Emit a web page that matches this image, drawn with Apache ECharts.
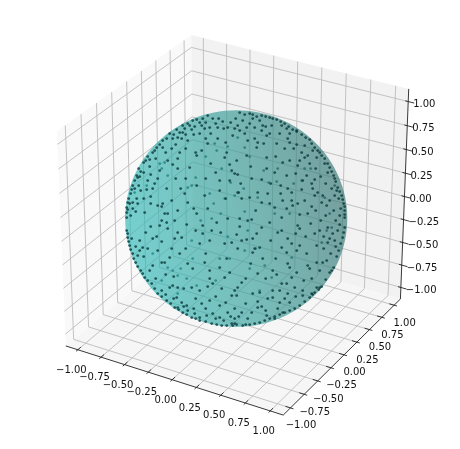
<!DOCTYPE html>
<html>
<head>
<meta charset="utf-8">
<script src="https://cdn.jsdelivr.net/npm/echarts@6/dist/echarts.min.js"></script>
<style>
html, body { margin: 0; padding: 0; background: #fff; }
#chart { width: 460px; height: 449px; }
</style>
</head>
<body>
<div id="chart"></div>
<script>
var tickValues = [-1, -0.75, -0.5, -0.25, 0, 0.25, 0.5, 0.75, 1];
var tickLabels = ['\u22121.00', '\u22120.75', '\u22120.50', '\u22120.25', '0.00', '0.25', '0.50', '0.75', '1.00'];

// dots, view plane units (sphere centre = 0,0, radius about 110)
var frontDots = [
  [-28,103],[-33,100],[-39,99],[-43,98],[-48,95],[-53,93],[-59,89],[-66,85],[-73,78],[-79,71],[-83,66],[-88,62],[-92,56],[-97,50],[-99,43],[-103,33],[-105,25],[-108,16],[-109,6],[-109,1],
  [-23,100],[-17,100],[-13,97],[-8,91],[-18,91],[-26,91],[-31,90],[-34,93],[-41,92],[-44,89],[-36,85],[-25,85],[-53,86],[-58,81],[-54,80],[-48,78],[-63,80],[-73,71],[-64,70],[-56,66],[-58,60],[-63,54],[-58,50],[-46,51],[-40,66],[-34,68],[-39,63],[-25,55],[-9,66],[-11,61],[-6,54],[1,58],[-4,48],[-6,38],[3,26],[-16,38],[-39,33],[-31,23],[-16,28],[-51,25],[-48,16],[-42,10],[-39,5],[-69,30],[-64,18],[-73,15],[-78,13],[-74,12],[-91,6],[-71,5],[-68,5],[-81,35],[-83,30],[-89,29],[-85,44],[-78,40],[-98,41],[-96,42],[-101,30],[-95,28],[-103,16],[-98,15],[-106,15],[-108,9],[-100,7],[-8,0],[4,0],[-18,80],[-10,76],[-3,83],[2,93],
  [-30,96],[-36,96],[-46,93],[-51,90],[-56,86],[-62,84],[-69,80],[-76,74],[-81,68],[-86,59],[-90,58],[-95,47],[-101,38],[-104,29],[-107,20],[-109,11],[-105,3],[-103,10],[-99,20],[-97,33],[-92,46],[-86,52],[-80,60],[-70,66],[-60,74],[-50,84],[-42,84],[-30,80],[-20,95],[-12,90],[-5,96],[-28,75],[-50,70],[-68,58],[-76,48],[-88,38],[-92,20],[-85,15],[-60,40],[-50,40],[-30,40],[-20,46],[-10,20],[-28,10],[-58,8],[-85,22],[-55,30],
  [4,106],[14,105],[17,104],[26,103],[34,101],[41,99],[49,95],[57,89],[66,84],[74,79],[79,71],[84,66],[89,60],[94,51],[98,43],[102,31],[106,23],[108,15],[109,8],[109,1],
  [7,98],[11,91],[17,100],[19,91],[24,98],[27,93],[34,85],[26,88],[9,85],[-1,90],[19,80],[22,76],[21,71],[31,83],[41,75],[46,93],[51,90],[54,85],[61,88],[54,76],[61,74],[69,73],[77,68],[81,61],[72,63],[69,61],[64,58],[62,53],[49,70],[54,58],[47,56],[31,61],[11,63],[31,50],[39,46],[51,43],[71,43],[79,39],[89,55],[92,46],[99,40],[76,35],[67,38],[77,30],[82,26],[87,23],[52,30],[56,26],[66,29],[101,28],[99,23],[94,18],[91,13],[86,16],[79,23],[69,18],[62,15],[56,18],[47,18],[32,25],[22,26],[14,21],[2,26],[6,20],[26,16],[34,15],[39,11],[57,13],[72,5],[64,4],[51,10],[46,1],[16,40],[26,39],[-1,45],[2,44],
  [0,100],[9,104],[21,102],[30,102],[37,100],[45,97],[53,92],[61,87],[70,81],[76,75],[82,68],[86,63],[92,55],[96,47],[100,37],[104,27],[107,19],[109,12],[109,4],[105,10],[103,20],[96,30],[90,35],[85,42],[80,50],[74,55],[66,66],[58,70],[52,80],[44,85],[36,93],[30,92],[14,95],[4,88],[12,78],[28,75],[40,62],[60,45],[45,33],[35,35],[15,52],[5,35],[20,8],[80,8],[98,8],[104,3],[90,3],[76,12],[45,25],
  [-109,-12],[-108,-19],[-106,-27],[-103,-35],[-100,-44],[-95,-52],[-91,-59],[-84,-65],[-78,-75],[-69,-82],[-61,-89],[-53,-94],[-44,-99],[-36,-102],[-24,-105],[-14,-107],[-3,-107],
  [-74,-2],[-69,-4],[-61,-2],[-76,-7],[-68,-10],[-58,-14],[-49,-6],[-79,-18],[-83,-20],[-74,-23],[-96,-22],[-93,-29],[-96,-32],[-98,-37],[-78,-32],[-71,-44],[-74,-44],[-66,-39],[-56,-35],[-61,-20],[-54,-19],[-33,-7],[-24,-12],[-19,-4],[-33,-15],[-36,-25],[-26,-22],[-11,-25],[-4,-24],[-48,-45],[-43,-50],[-31,-44],[-26,-52],[-16,-49],[-6,-54],[-11,-59],[-26,-60],[-23,-65],[-28,-68],[-63,-67],[-66,-69],[-74,-72],[-58,-69],[-83,-47],[-1,-72],[-4,-77],[-36,-72],[-59,-79],[-54,-84],[-58,-89],[-48,-92],[-49,-87],[-34,-85],[-26,-82],[-16,-87],[-23,-95],[-16,-99],[-29,-97],[-8,-94],[-1,-100],[-1,-105],[-36,-99],[-41,-95],[-44,-69],
  [-108,-15],[-107,-23],[-105,-31],[-102,-40],[-98,-48],[-93,-55],[-88,-62],[-81,-70],[-74,-78],[-65,-85],[-57,-91],[-49,-96],[-40,-100],[-30,-103],[-19,-106],[-9,-107],[-104,-20],[-100,-28],[-92,-38],[-86,-52],[-80,-60],[-70,-76],[-62,-80],[-52,-88],[-42,-90],[-30,-90],[-20,-100],[-12,-102],[-5,-98],[-90,-14],[-85,-8],[-64,-30],[-50,-30],[-40,-12],[-15,-14],[-62,-58],[-52,-70],[-40,-80],[-14,-70],[-9,-40],[-30,-35],[-88,-30],[-70,-56],[-20,-78],[-10,-84],
  [109,-9],[107,-19],[103,-32],[98,-49],[94,-54],[86,-68],[79,-74],[74,-79],[64,-87],[54,-92],[44,-96],[34,-100],[24,-104],[14,-106],[7,-107],[1,-106],
  [12,-2],[16,-1],[34,-4],[42,-14],[46,-12],[26,-9],[21,-15],[17,-20],[6,-22],[11,-21],[1,-16],[2,-30],[19,-30],[24,-29],[17,-34],[27,-40],[46,-29],[52,-20],[56,-25],[64,-10],[62,-7],[64,-27],[61,-32],[51,-34],[71,-35],[81,-27],[79,-15],[84,-12],[92,-9],[97,-15],[102,-12],[94,-20],[99,-22],[92,-24],[81,-44],[87,-44],[91,-42],[72,-47],[74,-50],[54,-49],[37,-52],[41,-56],[22,-55],[61,-54],[56,-59],[51,-65],[46,-65],[44,-72],[37,-72],[49,-80],[59,-69],[67,-72],[76,-75],[81,-69],[84,-69],[67,-77],[54,-84],[44,-84],[37,-79],[22,-83],[26,-88],[22,-89],[31,-97],[39,-100],[47,-94],[16,-94],[6,-94],[1,-77],[6,-64],[2,-69],[17,-75],[24,-74],[-1,-90],
  [108,-14],[105,-25],[101,-38],[96,-52],[90,-61],[83,-71],[77,-76],[69,-83],[59,-90],[49,-94],[39,-98],[29,-102],[19,-105],[10,-106],[-4,-105],[104,-6],[100,-28],[95,-35],[88,-30],[84,-52],[76,-60],[68,-62],[60,-78],[52,-75],[42,-90],[30,-92],[12,-100],[3,-98],[10,-85],[30,-60],[15,-45],[35,-22],[70,-18],[85,-2],[100,-2],[52,-45],[40,-40],[10,-60],[32,-80],[60,-15],[4,-8],[75,-5],[88,-18]
];
// the ones behind the surface, only faintly visible
var backDots = [
  [-76,55],[-71,56],[-74,50],[-68,43],[-40,41],[-48,31],[-44,33],[-21,75],[-19,68],[-26,25],[-11,20],[-1,23],[-101,26],[-89,33],
  [2,81],[9,71],[42,50],[33,36],[41,37],[69,50],[66,38],[99,33],[94,5],[54,5],[39,5],[9,7],[22,21],[89,21],
  [-68,-49],[-63,-52],[-58,-57],[-49,-60],[-43,-40],[-83,-35],[-58,-75],[-39,-67],[-16,-40],[-44,-22],[-24,0],[-74,-62],[-6,-40],
  [14,-50],[29,-47],[9,-32],[36,-59],[24,-72],[96,-9],[91,-12],[86,-24],[56,-39],
  [-8,72],[-30,62],[-14,50],[-5,36],[-22,15],[-35,-2],[-8,-18],[12,-12],[8,30],[14,62],[28,48],[58,35],[75,50],[-55,-50],[-20,-62],[20,-30],[-15,5]
];

// box half size of the 3d axes, and view
var L = 1.13;
var elev = 30 * Math.PI / 180;
var azim = -60 * Math.PI / 180;
var dist = 10;
var scaleX = 2510, scaleY = 2450;

var n = [Math.cos(elev) * Math.cos(azim), Math.cos(elev) * Math.sin(azim), Math.sin(elev)];
var u = [-n[1], n[0], 0];
var ul = Math.sqrt(u[0] * u[0] + u[1] * u[1]);
u = [u[0] / ul, u[1] / ul, 0];
var v = [n[1] * u[2] - n[2] * u[1], n[2] * u[0] - n[0] * u[2], n[0] * u[1] - n[1] * u[0]];

function project(x, y, z) {
  var p = [(x + L) / (2 * L) - 0.5, (y + L) / (2 * L) - 0.5, (z + L) / (2 * L) - 0.5];
  var w = dist - (n[0] * p[0] + n[1] * p[1] + n[2] * p[2]);
  return [
    scaleX * (u[0] * p[0] + u[1] * p[1] + u[2] * p[2]) / w,
    scaleY * (v[0] * p[0] + v[1] * p[1] + v[2] * p[2]) / w
  ];
}

// panes
var panes = [
  { fill: '#f9f9f9', pts: [[-L, -L, -L], [-L, L, -L], [-L, L, L], [-L, -L, L]] },
  { fill: '#f2f2f2', pts: [[-L, L, -L], [L, L, -L], [L, L, L], [-L, L, L]] },
  { fill: '#f6f6f6', pts: [[-L, -L, -L], [L, -L, -L], [L, L, -L], [-L, L, -L]] }
];

var gridLines = [], axisLines = [], tickMarks = [], labels = [];
tickValues.forEach(function (t, i) {
  gridLines.push([[t, -L, -L], [t, L, -L], [t, L, L]]);
  gridLines.push([[L, t, -L], [-L, t, -L], [-L, t, L]]);
  gridLines.push([[-L, -L, t], [-L, L, t], [L, L, t]]);
  tickMarks.push([[t, -L - 0.03, -L], [t, -L + 0.05, -L]]);
  tickMarks.push([[L + 0.03, t, -L], [L - 0.05, t, -L]]);
  tickMarks.push([[L + 0.06, L, t], [L - 0.03, L, t]]);
  labels.push({ pos: [t, -L, -L], text: tickLabels[i], dx: -6.5, dy: 20.5, align: 'center' });
  labels.push({ pos: [L, t, -L], text: tickLabels[i], dx: 10.5, dy: 18, align: 'center' });
  labels.push({ pos: [L, L, t], text: tickLabels[i], dx: 5, dy: 3, align: 'left' });
});
axisLines.push([[-L, -L, -L], [L, -L, -L]]);
axisLines.push([[L, -L, -L], [L, L, -L]]);
axisLines.push([[L, L, -L], [L, L, L]]);

function toCoords(api, pts) {
  return pts.map(function (p) {
    var q = project(p[0], p[1], p[2]);
    return api.coord(q);
  });
}

function lineSeries(list, color, width, z) {
  return {
    type: 'custom',
    coordinateSystem: 'cartesian2d',
    silent: true,
    z: z,
    clip: false,
    data: list.map(function (d, i) { return i; }),
    renderItem: function (params, api) {
      return {
        type: 'polyline',
        shape: { points: toCoords(api, list[params.dataIndex]) },
        style: { stroke: color, lineWidth: width, fill: null }
      };
    }
  };
}

var option = {
  animation: false,
  grid: { left: 0, right: 0, top: 0, bottom: 0 },
  xAxis: { type: 'value', min: -235.7, max: 224.3, show: false },
  yAxis: { type: 'value', min: -230.4, max: 218.6, show: false },
  series: [
    {
      type: 'custom',
      silent: true,
      z: 1,
      data: panes.map(function (d, i) { return i; }),
      renderItem: function (params, api) {
        var p = panes[params.dataIndex];
        return {
          type: 'polygon',
          shape: { points: toCoords(api, p.pts) },
          style: { fill: p.fill }
        };
      }
    },
    lineSeries(gridLines, '#bcbcbc', 0.9, 2),
    lineSeries(axisLines, '#222222', 0.9, 3),
    lineSeries(tickMarks, '#222222', 0.9, 3),
    {
      type: 'scatter',
      silent: true,
      z: 4,
      symbolSize: 2.8,
      itemStyle: { color: '#0b3c3c' },
      data: backDots
    },
    {
      // the sphere
      type: 'custom',
      silent: true,
      z: 5,
      data: [[0, 0, 1]],
      renderItem: function (params, api) {
        var c = api.coord([0, 0]);
        return {
          type: 'ellipse',
          shape: {
            cx: c[0] + 0.5,
            cy: c[1],
            rx: scaleX * 0.5 / L / dist,
            ry: scaleY * 0.5 / L / dist
          },
          style: {
            opacity: 0.65,
            fill: new echarts.graphic.LinearGradient(0, 0.62, 1, 0.38, [
              { offset: 0, color: '#2ebab8' },
              { offset: 0.5, color: '#339e99' },
              { offset: 1, color: '#337370' }
            ])
          }
        };
      }
    },
    {
      type: 'scatter',
      silent: true,
      z: 6,
      symbolSize: 2.8,
      itemStyle: { color: '#0a3a3c' },
      data: frontDots
    },
    {
      type: 'custom',
      silent: true,
      z: 7,
      data: labels.map(function (d, i) { return i; }),
      renderItem: function (params, api) {
        var l = labels[params.dataIndex];
        var c = toCoords(api, [l.pos])[0];
        return {
          type: 'text',
          x: c[0] + l.dx,
          y: c[1] + l.dy,
          style: {
            text: l.text,
            fill: '#111111',
            font: '10px "DejaVu Sans"',
            align: l.align,
            verticalAlign: 'middle'
          }
        };
      }
    }
  ]
};

var chart = echarts.init(document.getElementById('chart'), null, { renderer: 'canvas' });
chart.setOption(option);
</script>
</body>
</html>
